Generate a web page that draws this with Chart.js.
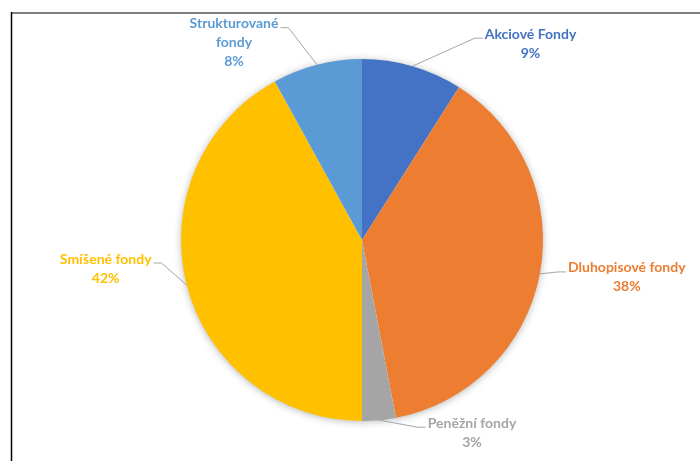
<!DOCTYPE html>
<html>
<head>
<meta charset="utf-8">
<script src="https://cdn.jsdelivr.net/npm/chart.js@4"></script>
<style>
  html, body { margin: 0; padding: 0; background: #fff; }
  #wrap { width: 700px; height: 461px; }
</style>
</head>
<body>
<div id="wrap"><canvas id="pie" width="700" height="461"></canvas></div>
<script>
const categories = ["Akciové Fondy", "Dluhopisové fondy", "Peněžní fondy", "Smíšené fondy", "Strukturované fondy"];
const shares = [9, 38, 3, 42, 8];
const labelLines = [["Akciové Fondy"], ["Dluhopisové fondy"], ["Peněžní fondy"], ["Smíšené fondy"], ["Strukturované", "fondy"]];
const sliceColors = ["#4472C4", "#ED7D31", "#A5A5A5", "#FFC000", "#5B9BD5"];

// where each data label sits, relative to the slice's outer mid point
const labelPlacement = [
  { dx: 118, dy: -32, side: "left" },
  { dx: 87, dy: -6, side: "left" },
  { dx: 93, dy: 3, side: "left" },
  { dx: -81, dy: -26, side: "right" },
  { dx: -83, dy: -41, side: "right" },
];

const FONT = "bold 14px Lato";
const LINE_H = 19;

const frame = {
  id: "frame",
  beforeDraw(chart) {
    const ctx = chart.ctx;
    ctx.save();
    ctx.fillStyle = "#fff";
    ctx.fillRect(0, 0, chart.width, chart.height);
    ctx.strokeStyle = "#7f7f7f";
    ctx.lineWidth = 2;
    ctx.beginPath();
    ctx.moveTo(11, 13);
    ctx.lineTo(chart.width, 13);
    ctx.stroke();
    ctx.strokeStyle = "#000";
    ctx.lineWidth = 1.5;
    ctx.beginPath();
    ctx.moveTo(11.5, 12);
    ctx.lineTo(11.5, chart.height);
    ctx.stroke();
    ctx.restore();
  },
};

// soft shadow under the whole pie
const pieShadow = {
  id: "pieShadow",
  beforeDatasetsDraw(chart) {
    const arc = chart.getDatasetMeta(0).data[0];
    if (!arc) return;
    const ctx = chart.ctx;
    ctx.save();
    ctx.shadowColor = "rgba(0,0,0,0.35)";
    ctx.shadowBlur = 9;
    ctx.shadowOffsetY = 1;
    ctx.fillStyle = "#fff";
    ctx.beginPath();
    ctx.arc(arc.x, arc.y, arc.outerRadius - 1, 0, Math.PI * 2);
    ctx.fill();
    ctx.restore();
  },
};

const outsideLabels = {
  id: "outsideLabels",
  afterDatasetsDraw(chart) {
    const ctx = chart.ctx;
    const arcs = chart.getDatasetMeta(0).data;
    ctx.save();
    ctx.font = FONT;
    ctx.textAlign = "center";
    ctx.textBaseline = "middle";
    arcs.forEach((arc, i) => {
      const mid = (arc.startAngle + arc.endAngle) / 2;
      const ex = arc.x + Math.cos(mid) * arc.outerRadius;
      const ey = arc.y + Math.sin(mid) * arc.outerRadius;
      const p = labelPlacement[i];
      const lx = ex + p.dx;
      const ly = ey + p.dy;
      const lines = [...labelLines[i], shares[i] + "%"];
      const half = Math.max(...lines.map((t) => ctx.measureText(t).width)) / 2;

      // leader: short horizontal stub beside the text, then to the slice edge
      const sign = p.side === "left" ? -1 : 1;
      const sx = lx + sign * (half + 2);
      const sy = ly + 4;
      ctx.strokeStyle = "#a6a6a6";
      ctx.lineWidth = 1;
      ctx.beginPath();
      ctx.moveTo(sx, sy);
      ctx.lineTo(sx + sign * 8, sy);
      ctx.lineTo(ex, ey);
      ctx.stroke();

      ctx.fillStyle = sliceColors[i];
      lines.forEach((t, k) => ctx.fillText(t, lx, ly + k * LINE_H));
    });
    ctx.restore();
  },
};

new Chart(document.getElementById("pie"), {
  type: "pie",
  data: {
    labels: categories,
    datasets: [{ data: shares, backgroundColor: sliceColors, borderWidth: 0 }],
  },
  options: {
    responsive: false,
    animation: false,
    devicePixelRatio: 1,
    layout: { padding: { left: 181, right: 157, top: 59, bottom: 40 } },
    plugins: { legend: { display: false }, tooltip: { enabled: false } },
  },
  plugins: [frame, pieShadow, outsideLabels],
});
</script>
</body>
</html>
